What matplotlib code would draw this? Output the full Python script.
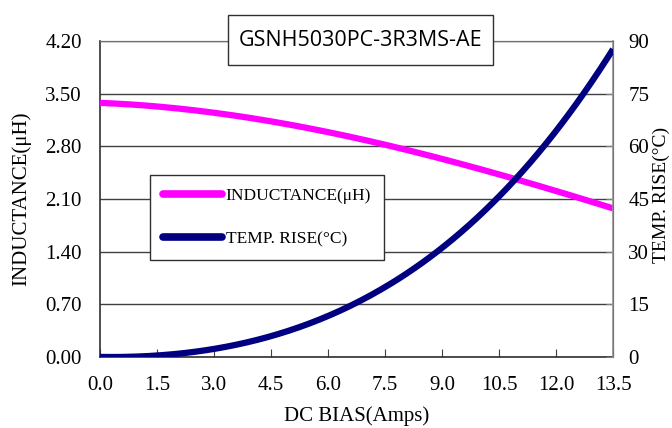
import matplotlib
matplotlib.use("Agg")
import matplotlib.pyplot as plt
from matplotlib.patches import Rectangle
import numpy as np

current = [0.0, 1.5, 3.0, 4.5, 6.0, 7.5, 9.0, 10.5, 12.0, 13.5]
inductance = [3.37, 3.35, 3.24, 3.12, 2.98, 2.84, 2.64, 2.42, 2.20, 1.98]
temp_rise = [0.0, 0.5, 2.3, 5.8, 11.5, 20.5, 31.0, 45.0, 65.0, 87.5]

x_ticks = [0.0, 1.5, 3.0, 4.5, 6.0, 7.5, 9.0, 10.5, 12.0, 13.5]
l_ticks = [0.00, 0.70, 1.40, 2.10, 2.80, 3.50, 4.20]
r_ticks = [0, 15, 30, 45, 60, 75, 90]

title = "GSNH5030PC-3R3MS-AE"

serif = "Liberation Serif"
W, H = 672, 428
fig = plt.figure(figsize=(W / 100, H / 100), dpi=100)
ax = fig.add_axes([100 / W, 1 - 357 / H, 513 / W, 316 / H])
ax2 = ax.twinx()

xs = np.linspace(0, 13.5, 200)
ci = np.polyfit(current, inductance, 3)
ct = np.polyfit(current, temp_rise, 4)
yi = np.polyval(ci, xs)
yt = np.clip(np.polyval(ct, xs), 0, None)

l1, = ax.plot(xs, yi, color="#FF00FF", lw=4.5, solid_capstyle="butt", zorder=3)
l2, = ax2.plot(xs, yt, color="#000080", lw=4.5, solid_capstyle="butt", zorder=3)

ax.set_xlim(0, 13.5)
ax.set_ylim(0, 4.2)
ax2.set_ylim(0, 90)
ax.set_xticks(x_ticks)
ax.set_xticklabels([f"{v:.1f}" for v in x_ticks], family=serif, fontsize=15)
ax.set_yticks(l_ticks)
ax.set_yticklabels([f"{v:.2f}" for v in l_ticks], family=serif, fontsize=15)
ax2.set_yticks(r_ticks)
ax2.set_yticklabels([str(v) for v in r_ticks], family=serif, fontsize=15)

ax.grid(axis="y", color="#404040", lw=1.0)
ax.set_axisbelow(True)
ax.tick_params(axis="x", direction="in", length=6, width=0.8, color="#404040", pad=14)
ax.tick_params(axis="y", length=0, pad=13)
ax2.tick_params(axis="y", direction="in", length=5, width=0.8, color="#808080", pad=11)

for s in ["left", "bottom"]:
    ax.spines[s].set_color("#303030")
    ax.spines[s].set_linewidth(1.2)
ax.spines["top"].set_color("#707070")
ax2.spines["top"].set_color("#707070")
ax2.spines["right"].set_color("#909090")
ax2.spines["right"].set_linewidth(1.2)
ax2.spines["left"].set_visible(False)
ax2.spines["bottom"].set_visible(False)

ax.set_xlabel("DC BIAS(Amps)", family=serif, fontsize=15, labelpad=8)
ax.set_ylabel("INDUCTANCE(μH)", family=serif, fontsize=15, labelpad=10)
fig.text(653 / W, 1 - 195 / H, "TEMP. RISE(°C)", family=serif, fontsize=14,
         rotation=90, ha="left", va="center")

fig.patches.append(Rectangle((228 / W, 1 - 65 / H), 265 / W, 50 / H,
                             transform=fig.transFigure, fc="white", ec="#303030",
                             lw=1.0, zorder=5))
fig.text(360.5 / W, 1 - 40 / H, title, ha="center", va="center",
         fontsize=15.5, family="Open Sans", zorder=6)

leg = ax.legend([l1, l2], ["INDUCTANCE(μH)", "TEMP. RISE(°C)"],
                loc="upper left", bbox_to_anchor=(50 / 513, 1 - 134 / 316),
                borderaxespad=0,
                prop={"family": serif, "size": 12.5}, frameon=True, fancybox=False,
                edgecolor="#303030", framealpha=1, handlelength=3.4, handletextpad=0.2,
                borderpad=0.75, labelspacing=1.55)
leg.get_frame().set_linewidth(1.0)
for h in leg.get_lines():
    h.set_linewidth(5.5)
    h.set_solid_capstyle("round")
leg.remove()
ax2.add_artist(leg)

fig.savefig("out.png", dpi=100)
